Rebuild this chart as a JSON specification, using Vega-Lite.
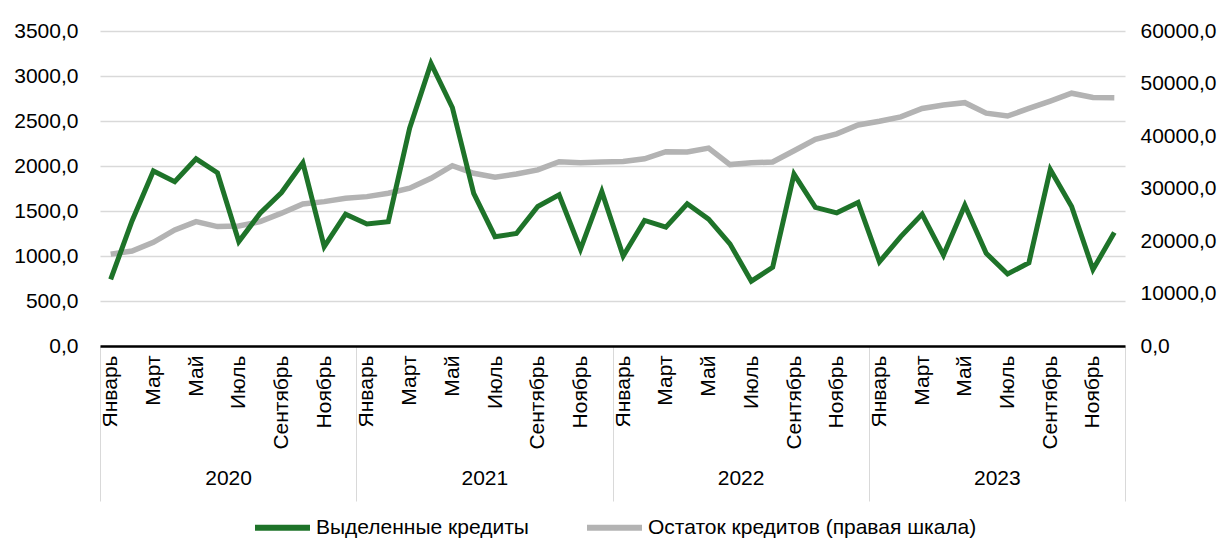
{
  "$schema": "https://vega.github.io/schema/vega-lite/v6.json",
  "width": 1025,
  "height": 315,
  "autosize": {"type": "none"},
  "padding": {"left": 100, "top": 31, "right": 105, "bottom": 195},
  "background": "white",
  "config": {
    "view": {"stroke": null},
    "font": "Liberation Sans",
    "axis": {"labelFont": "Liberation Sans", "labelFontSize": 21, "labelColor": "#000000", "title": null}
  },
  "data": {
    "values": [
      {"t": 0, "year": 2020, "month": 1, "issued": 740, "balance": 17500},
      {"t": 1, "year": 2020, "month": 2, "issued": 1390, "balance": 18100},
      {"t": 2, "year": 2020, "month": 3, "issued": 1945, "balance": 19750},
      {"t": 3, "year": 2020, "month": 4, "issued": 1825, "balance": 22100},
      {"t": 4, "year": 2020, "month": 5, "issued": 2080, "balance": 23700},
      {"t": 5, "year": 2020, "month": 6, "issued": 1925, "balance": 22750},
      {"t": 6, "year": 2020, "month": 7, "issued": 1160, "balance": 22850},
      {"t": 7, "year": 2020, "month": 8, "issued": 1475, "balance": 23700},
      {"t": 8, "year": 2020, "month": 9, "issued": 1705, "balance": 25300},
      {"t": 9, "year": 2020, "month": 10, "issued": 2035, "balance": 27050},
      {"t": 10, "year": 2020, "month": 11, "issued": 1105, "balance": 27500},
      {"t": 11, "year": 2020, "month": 12, "issued": 1465, "balance": 28150},
      {"t": 12, "year": 2021, "month": 1, "issued": 1355, "balance": 28450},
      {"t": 13, "year": 2021, "month": 2, "issued": 1380, "balance": 29100},
      {"t": 14, "year": 2021, "month": 3, "issued": 2420, "balance": 30050},
      {"t": 15, "year": 2021, "month": 4, "issued": 3140, "balance": 31950},
      {"t": 16, "year": 2021, "month": 5, "issued": 2650, "balance": 34350},
      {"t": 17, "year": 2021, "month": 6, "issued": 1695, "balance": 32900},
      {"t": 18, "year": 2021, "month": 7, "issued": 1215, "balance": 32150},
      {"t": 19, "year": 2021, "month": 8, "issued": 1250, "balance": 32750},
      {"t": 20, "year": 2021, "month": 9, "issued": 1550, "balance": 33550},
      {"t": 21, "year": 2021, "month": 10, "issued": 1680, "balance": 35100},
      {"t": 22, "year": 2021, "month": 11, "issued": 1075, "balance": 34900},
      {"t": 23, "year": 2021, "month": 12, "issued": 1715, "balance": 35050},
      {"t": 24, "year": 2022, "month": 1, "issued": 1000, "balance": 35150},
      {"t": 25, "year": 2022, "month": 2, "issued": 1395, "balance": 35650},
      {"t": 26, "year": 2022, "month": 3, "issued": 1320, "balance": 37000},
      {"t": 27, "year": 2022, "month": 4, "issued": 1580, "balance": 36950},
      {"t": 28, "year": 2022, "month": 5, "issued": 1410, "balance": 37700},
      {"t": 29, "year": 2022, "month": 6, "issued": 1135, "balance": 34550},
      {"t": 30, "year": 2022, "month": 7, "issued": 720, "balance": 34900},
      {"t": 31, "year": 2022, "month": 8, "issued": 875, "balance": 35050},
      {"t": 32, "year": 2022, "month": 9, "issued": 1910, "balance": 37200},
      {"t": 33, "year": 2022, "month": 10, "issued": 1540, "balance": 39350},
      {"t": 34, "year": 2022, "month": 11, "issued": 1480, "balance": 40400},
      {"t": 35, "year": 2022, "month": 12, "issued": 1595, "balance": 42100},
      {"t": 36, "year": 2023, "month": 1, "issued": 935, "balance": 42800},
      {"t": 37, "year": 2023, "month": 2, "issued": 1215, "balance": 43650},
      {"t": 38, "year": 2023, "month": 3, "issued": 1465, "balance": 45250},
      {"t": 39, "year": 2023, "month": 4, "issued": 1010, "balance": 45900},
      {"t": 40, "year": 2023, "month": 5, "issued": 1565, "balance": 46350},
      {"t": 41, "year": 2023, "month": 6, "issued": 1030, "balance": 44350},
      {"t": 42, "year": 2023, "month": 7, "issued": 800, "balance": 43800},
      {"t": 43, "year": 2023, "month": 8, "issued": 925, "balance": 45250},
      {"t": 44, "year": 2023, "month": 9, "issued": 1960, "balance": 46650},
      {"t": 45, "year": 2023, "month": 10, "issued": 1550, "balance": 48150},
      {"t": 46, "year": 2023, "month": 11, "issued": 850, "balance": 47350},
      {"t": 47, "year": 2023, "month": 12, "issued": 1260, "balance": 47300}
    ]
  },
  "layer": [
    {
      "mark": {"type": "line", "strokeWidth": 5.5, "strokeJoin": "miter", "strokeCap": "butt"},
      "encoding": {
        "x": {
          "field": "t", "type": "quantitative",
          "scale": {"domain": [-0.5, 47.5], "nice": false, "zero": false},
          "axis": {
            "orient": "bottom",
            "values": [-0.5, 11.5, 23.5, 35.5, 47.5],
            "labelExpr": "datum.value < 47 ? '' + (2020 + (datum.value + 0.5) / 12) : ''",
            "labelOffset": 128.1,
            "labelAlign": "center",
            "labelAngle": 0,
            "labelPadding": -34,
            "labelFlush": false,
            "labelOverlap": false,
            "labelBound": false,
            "domain": false,
            "grid": false,
            "ticks": true,
            "tickSize": 155,
            "tickWidth": 1,
            "tickColor": "#d9d9d9"
          }
        },
        "y": {
          "field": "balance", "type": "quantitative",
          "scale": {"domain": [0, 60000], "nice": false},
          "axis": {
            "orient": "right",
            "values": [0, 10000, 20000, 30000, 40000, 50000, 60000],
            "labelExpr": "replace(format(datum.value, '.1f'), '.', ',')",
            "grid": false, "domain": false, "ticks": false,
            "labelPadding": 15
          }
        },
        "color": {
          "datum": "Остаток кредитов (правая шкала)", "type": "nominal",
          "scale": {"domain": ["Выделенные кредиты", "Остаток кредитов (правая шкала)"], "range": ["#1e7329", "#b3b3b3"]},
          "legend": {
            "orient": "none",
            "direction": "horizontal",
            "legendX": 152,
            "legendY": 466,
            "title": null,
            "symbolType": "stroke",
            "symbolSize": 3025,
            "symbolStrokeWidth": 6,
            "labelFont": "Liberation Sans",
            "labelFontSize": 21,
            "labelColor": "#000000",
            "labelOffset": 3,
            "columnPadding": 46,
            "labelLimit": 400
          }
        }
      }
    },
    {
      "mark": {"type": "line", "strokeWidth": 5, "strokeJoin": "miter", "strokeCap": "butt"},
      "encoding": {
        "x": {
          "field": "t", "type": "quantitative",
          "axis": {
            "orient": "bottom",
            "values": [0, 2, 4, 6, 8, 10, 12, 14, 16, 18, 20, 22, 24, 26, 28, 30, 32, 34, 36, 38, 40, 42, 44, 46],
            "labelExpr": "['Январь','Март','Май','Июль','Сентябрь','Ноябрь'][(datum.value % 12) / 2]",
            "labelAngle": -90,
            "labelPadding": 9,
            "labelFlush": false,
            "labelOverlap": false,
            "labelBound": false,
            "ticks": false,
            "grid": false,
            "domain": true,
            "domainColor": "#000000",
            "domainWidth": 2.5
          }
        },
        "y": {
          "field": "issued", "type": "quantitative",
          "scale": {"domain": [0, 3500], "nice": false},
          "axis": {
            "orient": "left",
            "values": [0, 500, 1000, 1500, 2000, 2500, 3000, 3500],
            "labelExpr": "replace(format(datum.value, '.1f'), '.', ',')",
            "grid": true, "gridColor": "#d9d9d9", "gridWidth": 1.5,
            "domain": false, "ticks": false,
            "labelPadding": 22
          }
        },
        "color": {
          "datum": "Выделенные кредиты", "type": "nominal"
        }
      }
    }
  ],
  "resolve": {"scale": {"y": "independent"}, "axis": {"x": "independent"}}
}
